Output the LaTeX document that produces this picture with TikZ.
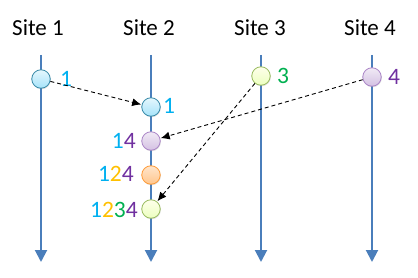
\documentclass[tikz,border=0pt]{standalone}
\usepackage{fontspec}
\setmainfont{Carlito}
\usetikzlibrary{arrows.meta,shadows}
\definecolor{cA}{RGB}{0,176,240}
\definecolor{cB}{RGB}{255,192,0}
\definecolor{cC}{RGB}{0,176,80}
\definecolor{cD}{RGB}{112,48,160}
\definecolor{axis}{RGB}{74,126,187}
\tikzset{
  sitelabel/.style={font=\fontsize{23}{23}\selectfont, anchor=center, inner sep=0pt},
  num/.style={font=\fontsize{23.5}{23.5}\selectfont, inner sep=0pt},
  timeline/.style={draw=axis, line width=2pt, -{Triangle[width=12pt,length=12pt]}},
  event/.style={circle, minimum size=18.5pt, inner sep=0pt, line width=0.8pt,
     drop shadow={opacity=0.25, shadow xshift=0.6pt, shadow yshift=-1pt}},
  evA/.style={event, draw=cA!60!black!80, top color=cA!10, bottom color=cA!35},
  evD/.style={event, draw=cD!60, top color=cD!10, bottom color=cD!30},
  evO/.style={event, draw=orange!80, top color=orange!20, bottom color=orange!45},
  evC/.style={event, draw=cC!40!yellow!70!black!70, top color=green!5!yellow!8, bottom color=green!30!yellow!25},
  msg/.style={dash pattern=on 4pt off 3pt, line width=0.9pt, -{Latex[length=9pt,width=8pt]}, shorten >=0.5pt}
}
\begin{document}
\begin{tikzpicture}[x=1pt,y=-1pt]
\useasboundingbox (0,0) rectangle (418,278);
% site labels
\node[sitelabel] (l1) at (38,28) {Site 1};
\node[sitelabel] (l2) at (149,28) {Site 2};
\node[sitelabel] (l3) at (260,28) {Site 3};
\node[sitelabel] (l4) at (370,28) {Site 4};
% timelines
\coordinate (t1) at (41,55); \coordinate (b1) at (41,262);
\coordinate (t2) at (151,55); \coordinate (b2) at (151,262);
\coordinate (t3) at (261,55); \coordinate (b3) at (261,262);
\coordinate (t4) at (372,55); \coordinate (b4) at (372,262);
\draw[timeline] (t1) -- (b1);
\draw[timeline] (t2) -- (b2);
\draw[timeline] (t3) -- (b3);
\draw[timeline] (t4) -- (b4);
% events
\node[evA] (e1) at (41,79) {};
\node[evC] (e3) at (261,76) {};
\node[evD] (e4) at (372,77) {};
\node[evA] (f1) at (151,107) {};
\node[evD] (f14) at (151,141) {};
\node[evO] (f124) at (151,175) {};
\node[evC] (f1234) at (151,209) {};
% numbers
\node[num, text=cA] (n1) at (66,79) {1};
\node[num, text=cC] (n3) at (283,76) {3};
\node[num, text=cD] (n4) at (394,77) {4};
\node[num, text=cA] (m1) at (169,106) {1};
\node[num, anchor=east] (m14) at (136,141) {\textcolor{cA}{1}\textcolor{cD}{4}};
\node[num, anchor=east] (m124) at (134,174) {\textcolor{cA}{1}\textcolor{cB}{2}\textcolor{cD}{4}};
\node[num, anchor=east] (m1234) at (138,210) {\textcolor{cA}{1}\textcolor{cB}{2}\textcolor{cC}{3}\textcolor{cD}{4}};
% messages
\draw[msg] (e1) -- (f1);
\draw[msg] (e4) -- (f14);
\draw[msg] (e3) -- (f1234);
\end{tikzpicture}
\end{document}
